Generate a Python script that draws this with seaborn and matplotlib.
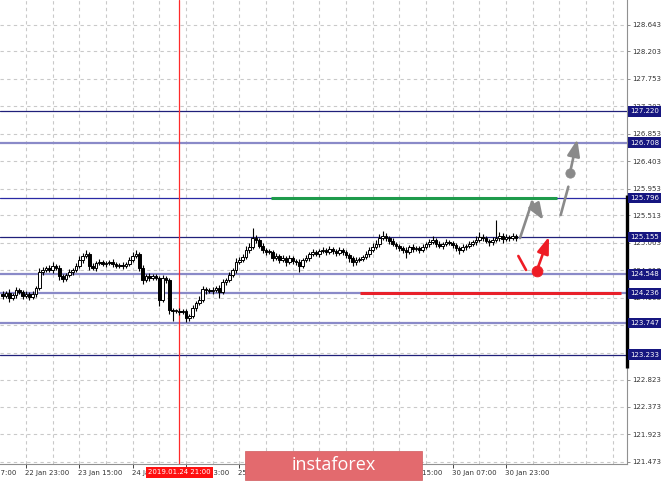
import numpy as np
import pandas as pd
import matplotlib
matplotlib.use("Agg")
import matplotlib.pyplot as plt
import matplotlib.transforms as mtransforms
from matplotlib.patches import Rectangle
import seaborn as sns

# ---------------- data ----------------
first_bar = 9            # bar index of first candle (0 = 22 Jan 07:00, H1 bars)
first_open = 124.225
closes = [
    124.193, 124.242, 124.160, 124.209, 124.291, 124.258, 124.193, 124.225,
    124.176, 124.225, 124.324, 124.586, 124.619, 124.652, 124.619, 124.684,
    124.652, 124.520, 124.471, 124.537, 124.586, 124.619, 124.684, 124.783,
    124.848, 124.881, 124.684, 124.652, 124.734, 124.750, 124.717, 124.734,
    124.750, 124.717, 124.684, 124.701, 124.684, 124.717, 124.783, 124.848,
    124.881, 124.652, 124.455, 124.520, 124.488, 124.520, 124.488, 124.127,
    124.488, 124.455, 123.963, 123.947, 123.947, 123.930, 123.947, 123.832,
    123.865, 123.996, 124.078, 124.127, 124.307, 124.291, 124.275, 124.291,
    124.324, 124.258, 124.422, 124.455, 124.537, 124.619, 124.750, 124.783,
    124.832, 124.947, 124.996, 125.143, 125.111, 125.012, 124.947, 124.914,
    124.914, 124.816, 124.848, 124.783, 124.816, 124.750, 124.816, 124.766,
    124.750, 124.684, 124.783, 124.816, 124.881, 124.914, 124.881, 124.930,
    124.947, 124.914, 124.963, 124.930, 124.897, 124.947, 124.914, 124.865,
    124.816, 124.750, 124.783, 124.799, 124.832, 124.881, 124.947, 124.996,
    125.045, 125.143, 125.176, 125.143, 125.094, 125.045, 125.012, 124.979,
    124.947, 124.914, 124.996, 124.963, 124.979, 124.947, 124.996, 125.045,
    125.078, 125.111, 125.045, 125.012, 125.045, 125.078, 125.061, 125.029,
    124.979, 124.947, 124.996, 125.012, 125.045, 125.078, 125.111, 125.160,
    125.143, 125.094, 125.078, 125.111, 125.143, 125.176, 125.127, 125.160,
    125.143, 125.176, 125.143,
]
wick_hi = [
    .05, .04, .06, .04, .05, .04, .04, .05,
    .04, .05, .04, .06, .05, .04, .05, .06,
    .04, .05, .04, .04, .05, .04, .05, .06,
    .05, .07, .04, .05, .04, .05, .04, .04,
    .04, .05, .04, .04, .05, .04, .05, .07,
    .06, .04, .05, .04, .05, .04, .04, .04,
    .05, .04, .04, .04, .04, .05, .04, .04,
    .04, .05, .04, .06, .05, .04, .04, .05,
    .04, .05, .05, .04, .05, .04, .06, .05,
    .05, .06, .07, .17, .05, .04, .05, .04,
    .05, .04, .05, .04, .05, .04, .05, .04,
    .04, .05, .04, .05, .04, .05, .04, .04,
    .05, .04, .05, .04, .04, .05, .04, .04,
    .04, .04, .05, .04, .04, .05, .05, .06,
    .06, .07, .09, .05, .04, .05, .04, .04,
    .04, .05, .04, .05, .04, .04, .05, .04,
    .05, .06, .04, .05, .04, .05, .04, .04,
    .04, .04, .05, .04, .05, .04, .06, .08,
    .05, .04, .04, .05, .29, .06, .05, .05,
    .04, .05, .04,
]
wick_lo = [
    .05, .04, .06, .04, .05, .04, .05, .04,
    .05, .04, .05, .04, .05, .04, .04, .05,
    .04, .06, .05, .04, .04, .05, .04, .04,
    .05, .04, .06, .04, .05, .04, .04, .05,
    .04, .05, .04, .04, .05, .04, .04, .04,
    .04, .05, .06, .04, .05, .04, .04, .10,
    .04, .05, .06, .16, .04, .05, .04, .06,
    .05, .04, .05, .04, .04, .06, .04, .05,
    .04, .10, .04, .05, .04, .04, .05, .04,
    .04, .04, .05, .04, .05, .04, .05, .05,
    .04, .05, .04, .05, .04, .07, .04, .05,
    .05, .10, .04, .04, .05, .04, .04, .05,
    .04, .05, .04, .05, .05, .04, .05, .05,
    .06, .07, .05, .04, .04, .04, .05, .04,
    .04, .05, .04, .05, .05, .04, .05, .05,
    .05, .10, .04, .05, .04, .05, .04, .04,
    .05, .04, .05, .04, .05, .04, .04, .05,
    .05, .06, .04, .05, .04, .04, .05, .04,
    .05, .04, .06, .05, .04, .05, .06, .04,
    .05, .04, .05,
]

levels = [127.220, 126.708, 125.796, 125.155, 124.548, 124.236, 123.747, 123.233]
level_kind = ["dark", "light", "mid", "dark", "light", "light", "light", "dark"]

y_ticks = [128.643, 128.203, 127.753, 127.302, 126.853, 126.403, 125.953, 125.513,
           125.063, 124.613, 124.163, 123.713, 123.263, 122.823, 122.373, 121.923, 121.473]

x_label_bars = [0, 16, 32, 48, 64, 80, 96, 112, 128, 144, 160]
x_labels = ["22 Jan 07:00", "22 Jan 23:00", "23 Jan 15:00", "24 Jan 07:00",
            "24 Jan 23:00", "25 Jan 15:00", "28 Jan 07:00", "28 Jan 23:00",
            "29 Jan 15:00", "30 Jan 07:00", "30 Jan 23:00"]

marker_bar = 62
marker_label = "2019.01.24 21:00"

green_bars = [89.5, 175.3]
green_level = 125.796
red_bars = [116.2, 194.5]
red_level = 124.236

gray_path_bar = [164.2, 167.8, 171.2]
gray_path_price = [125.143, 125.734, 125.438]
gray_dash_bar = [176.4, 178.7]
gray_dash_price = [125.520, 125.984]
gray_dot_bar, gray_dot_price = 179.2, 126.214
gray_tip_bar, gray_tip_price = 181.4, 126.761

red_dash_bar = [163.7, 166.0]
red_dash_price = [124.848, 124.619]
red_dot_bar, red_dot_price = 169.2, 124.602
red_tip_bar, red_tip_price = 172.9, 125.165

x_range = (8.19, 196.3)
y_range = (121.438, 129.045)
scroll_range = (125.848, 123.012)

# ---------------- style ----------------
sns.set_style("white")
plt.rcParams["font.family"] = ["DejaVu Sans"]

W, H = 665, 482
fig = plt.figure(figsize=(W / 100, H / 100), dpi=100)
ax = fig.add_axes([0, 18 / H, 627 / W, 464 / H])
ax.set_xlim(*x_range)
ax.set_ylim(*y_range)

# grid
ax.set_yticks(y_ticks)
ax.set_yticklabels([f"{v:.3f}" for v in y_ticks])
ax.yaxis.tick_right()
major_x = x_label_bars[1:]
minor_x = [b for b in range(8, 200, 8) if b not in major_x]
ax.set_xticks(major_x)
ax.set_xticklabels([""] * len(major_x))
ax.set_xticks(minor_x, minor=True)
ax.set_axisbelow(True)
ax.grid(True, which="both", color="#c9c9c9", linestyle=(0, (3, 3)), linewidth=0.8)
ax.tick_params(axis="y", which="major", right=True, left=False, length=2.5, width=0.6,
               color="#808080", labelsize=5, labelcolor="#333333", pad=1.5)
ax.tick_params(axis="x", which="major", bottom=True, length=3, width=0.7,
               color="#444444", labelsize=5)
ax.tick_params(axis="x", which="minor", length=0)
for s in ["top", "left"]:
    ax.spines[s].set_visible(False)
for s in ["right", "bottom"]:
    ax.spines[s].set_color("#909090")
    ax.spines[s].set_linewidth(0.8)

# level lines
lvl_style = {"dark": ("#20207a", 0.9), "mid": ("#2a2aa5", 0.9), "light": ("#8a8ac8", 1.6)}
for lv, kind in zip(levels, level_kind):
    c, lw = lvl_style[kind]
    ax.axhline(lv, color=c, lw=lw, zorder=1.5)

# red vertical marker
ax.axvline(marker_bar, color="#ff2a2a", lw=0.9, zorder=1.6)

# green / red segments
ax.plot(green_bars, [green_level] * 2, color="#1e9b4b", lw=2.2, zorder=2, solid_capstyle="butt")
ax.plot(red_bars, [red_level] * 2, color="#e8202a", lw=2.2, zorder=2, solid_capstyle="butt")

# candles
c_arr = np.array(closes)
o_arr = np.array([first_open] + closes[:-1])
x_arr = np.arange(first_bar, first_bar + len(closes))
hi = np.maximum(o_arr, c_arr) + np.array(wick_hi)
lo = np.minimum(o_arr, c_arr) - np.array(wick_lo)
ax.vlines(x_arr, lo, hi, color="black", lw=0.8, zorder=3)
bull = c_arr >= o_arr
bottoms = np.minimum(o_arr, c_arr)
heights = np.maximum(np.abs(c_arr - o_arr), 0.01)
ax.bar(x_arr[bull], heights[bull], bottom=bottoms[bull], width=0.72,
       color="white", edgecolor="black", linewidth=0.7, zorder=4)
ax.bar(x_arr[~bull], heights[~bull], bottom=bottoms[~bull], width=0.72,
       color="black", edgecolor="black", linewidth=0.7, zorder=4)

# forecast marks
gray = "#8a8a8a"
red = "#ee1c25"
sns.lineplot(x=gray_path_bar[:2], y=gray_path_price[:2], color=gray, lw=1.9,
             sort=False, estimator=None, ax=ax, zorder=6)
ax.annotate("", xy=(gray_path_bar[2], gray_path_price[2]),
            xytext=(gray_path_bar[1], gray_path_price[1]),
            arrowprops=dict(arrowstyle="-|>,head_length=1.0,head_width=0.38",
                            mutation_scale=10, color=gray, lw=1.9,
                            shrinkA=0, shrinkB=0), zorder=6)
sns.lineplot(x=gray_dash_bar, y=gray_dash_price, color=gray, lw=1.9, sort=False,
             estimator=None, ax=ax, zorder=6)
ax.annotate("", xy=(gray_tip_bar, gray_tip_price), xytext=(gray_dot_bar, gray_dot_price),
            arrowprops=dict(arrowstyle="-|>,head_length=1.0,head_width=0.38",
                            mutation_scale=10, color=gray, lw=1.9,
                            shrinkA=0, shrinkB=0), zorder=6)
sns.scatterplot(x=[gray_dot_bar], y=[gray_dot_price], s=45, color=gray,
                edgecolor=gray, ax=ax, zorder=7)

sns.lineplot(x=red_dash_bar, y=red_dash_price, color=red, lw=1.9, sort=False,
             estimator=None, ax=ax, zorder=6)
ax.annotate("", xy=(red_tip_bar, red_tip_price), xytext=(red_dot_bar, red_dot_price),
            arrowprops=dict(arrowstyle="-|>,head_length=1.0,head_width=0.35",
                            mutation_scale=10, color=red, lw=1.9,
                            shrinkA=0, shrinkB=0), zorder=6)
sns.scatterplot(x=[red_dot_bar], y=[red_dot_price], s=60, color=red,
                edgecolor=red, ax=ax, zorder=7)
ax.set_xlabel("")
ax.set_ylabel("")
ax.set_xlim(*x_range)
ax.set_ylim(*y_range)

# thick scroll marker on right border
ax.plot([1, 1], list(scroll_range), transform=ax.get_yaxis_transform(),
        color="black", lw=2.4, clip_on=False, zorder=5, solid_capstyle="butt")

# level value boxes
ytrans = mtransforms.offset_copy(ax.get_yaxis_transform(), fig=fig, x=3, y=0, units="dots")
for lv in levels:
    ax.text(1, lv, f"{lv:.3f}", transform=ytrans, ha="left", va="center",
            fontsize=5, color="white", clip_on=False, zorder=10,
            bbox=dict(boxstyle="square,pad=0.32", fc="#161680", ec="none"))

# x labels
xtrans = mtransforms.offset_copy(ax.get_xaxis_transform(), fig=fig, x=0, y=-8.5, units="dots")
for b, lab in zip(x_label_bars, x_labels):
    ax.text(b - 0.3, 0, lab, transform=xtrans, ha="left", va="center", fontsize=5,
            color="#333333", clip_on=False, zorder=4)
ax.text(marker_bar, 0, marker_label, transform=xtrans, ha="center", va="center",
        fontsize=5, color="white", clip_on=False, zorder=10,
        bbox=dict(boxstyle="square,pad=0.3", fc="#ff1010", ec="none"))

# watermark
rect = Rectangle((245 / W, 2 / H), 177 / W, 29 / H, transform=fig.transFigure,
                 facecolor="#e36a6e", edgecolor="#d05a5e", lw=0.5, zorder=20)
fig.add_artist(rect)
fig.text(333.5 / W, 16.5 / H, "instaforex", ha="center", va="center",
         fontsize=13, color="white", family=["Open Sans", "DejaVu Sans"], zorder=21)

fig.savefig("out.png", dpi=100)
